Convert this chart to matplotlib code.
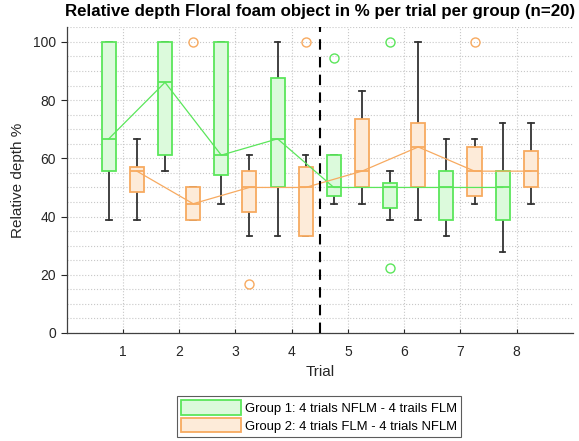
import matplotlib
matplotlib.use("Agg")
import matplotlib.pyplot as plt
from matplotlib.patches import Patch
from matplotlib.ticker import MultipleLocator

plt.rcParams['font.family'] = ['Liberation Sans', 'DejaVu Sans']

trials = [1, 2, 3, 4, 5, 6, 7, 8]
tick_labels = ['1', '2', '3', '4', '5', '6', '7', '8']

# Group 1 (NFLM first) box statistics
g1_whislo = [38.9, 55.6, 44.4, 33.3, 44.4, 38.9, 33.3, 27.8]
g1_q1 = [55.6, 61.1, 54.2, 50.0, 47.2, 42.9, 38.9, 38.9]
g1_med = [66.7, 86.1, 61.1, 66.7, 50.0, 50.0, 50.0, 50.0]
g1_q3 = [100.0, 100.0, 100.0, 87.5, 61.1, 51.4, 55.6, 55.6]
g1_whishi = [100.0, 100.0, 100.0, 100.0, 61.1, 55.6, 66.7, 72.2]
g1_fliers = [[], [], [], [], [94.4], [100.0, 22.2], [], []]

# Group 2 (FLM first) box statistics
g2_whislo = [38.9, 38.9, 33.3, 33.3, 44.4, 38.9, 44.4, 44.4]
g2_q1 = [48.6, 38.9, 41.7, 33.3, 50.0, 50.0, 47.2, 50.0]
g2_med = [55.6, 44.4, 50.0, 50.0, 55.6, 63.9, 55.6, 55.6]
g2_q3 = [56.9, 50.0, 55.6, 56.9, 73.6, 72.2, 63.9, 62.5]
g2_whishi = [66.7, 50.0, 61.1, 61.1, 83.3, 100.0, 66.7, 72.2]
g2_fliers = [[], [100.0], [16.7], [100.0], [], [], [100.0], []]

legend_labels = ['Group 1: 4 trials NFLM - 4 trails FLM',
                 'Group 2: 4 trials FLM - 4 trials NFLM']

g1_edge, g1_fill = '#5be65b', '#dcfadc'
g2_edge, g2_fill = '#f7aa60', '#fdebd9'
whisk_col = '#333333'

fig = plt.figure(figsize=(5.79, 4.41), dpi=100)
ax = fig.add_axes([0.1149, 0.2449, 0.9896 - 0.1149, 0.938 - 0.2449])


def make_stats(wlo, q1, med, q3, whi, fl):
    return [dict(whislo=a, q1=b, med=c, q3=d, whishi=e, fliers=f)
            for a, b, c, d, e, f in zip(wlo, q1, med, q3, whi, fl)]


def draw(stats, positions, edge, fill):
    ax.bxp(stats, positions=positions, widths=0.25, patch_artist=True,
           showfliers=True, manage_ticks=False,
           boxprops=dict(facecolor=fill, edgecolor=edge, linewidth=1.3, zorder=3),
           medianprops=dict(color=edge, linewidth=1.3, zorder=4),
           whiskerprops=dict(color=whisk_col, linewidth=1.3, zorder=2),
           capprops=dict(color=whisk_col, linewidth=1.3, zorder=2),
           capwidths=0.1,
           flierprops=dict(marker='o', markerfacecolor='none',
                           markeredgecolor=edge, markersize=6.5,
                           markeredgewidth=1.0, linestyle='none', zorder=5))


pos1 = [t - 0.25 for t in trials]
pos2 = [t + 0.25 for t in trials]
draw(make_stats(g1_whislo, g1_q1, g1_med, g1_q3, g1_whishi, g1_fliers), pos1, g1_edge, g1_fill)
draw(make_stats(g2_whislo, g2_q1, g2_med, g2_q3, g2_whishi, g2_fliers), pos2, g2_edge, g2_fill)

ax.plot(pos1, g1_med, color=g1_edge, linewidth=0.9, zorder=6)
ax.plot(pos2, g2_med, color=g2_edge, linewidth=0.9, zorder=6)

ax.axvline(4.5, color='black', linestyle=(0, (5, 3.5)), linewidth=1.5, zorder=7)

ax.set_xlim(0, 9)
ax.set_ylim(0, 105)
ax.set_xticks(trials)
ax.set_xticklabels(tick_labels)
ax.set_yticks([0, 20, 40, 60, 80, 100])
ax.yaxis.set_minor_locator(MultipleLocator(5))
ax.grid(True, which='major', linestyle=':', color='#c8c8c8', linewidth=0.8, zorder=0)
ax.grid(True, which='minor', axis='y', linestyle=':', color='#c8c8c8', linewidth=0.8, zorder=0)
ax.set_axisbelow(True)
ax.tick_params(axis='y', which='minor', length=0)
ax.tick_params(axis='x', direction='in', length=3, colors='#262626', labelsize=10, pad=9)
ax.tick_params(axis='y', direction='out', length=4, colors='#262626', labelsize=10)
for s in ['top', 'right']:
    ax.spines[s].set_visible(False)
for s in ['left', 'bottom']:
    ax.spines[s].set_color('#404040')
    ax.spines[s].set_linewidth(0.9)

ax.set_xlabel('Trial', fontsize=11, color='#262626', labelpad=4)
ax.set_ylabel('Relative depth %', fontsize=11, color='#262626', labelpad=6)
ax.set_title('Relative depth Floral foam object in % per trial per group (n=20)',
             fontsize=12.2, fontweight='bold', pad=8)

handles = [Patch(facecolor=g1_fill, edgecolor=g1_edge, linewidth=1.3),
           Patch(facecolor=g2_fill, edgecolor=g2_edge, linewidth=1.3)]
leg = fig.legend(handles, legend_labels, loc='center', bbox_to_anchor=(0.551, 0.0556),
                 fontsize=9.4, frameon=True, fancybox=False, edgecolor='#333333',
                 handlelength=4.6, handleheight=1.3, handletextpad=0.3,
                 borderpad=0.3, labelspacing=0.25, borderaxespad=0)
leg.get_frame().set_linewidth(0.8)

fig.savefig('out.png', dpi=100)
